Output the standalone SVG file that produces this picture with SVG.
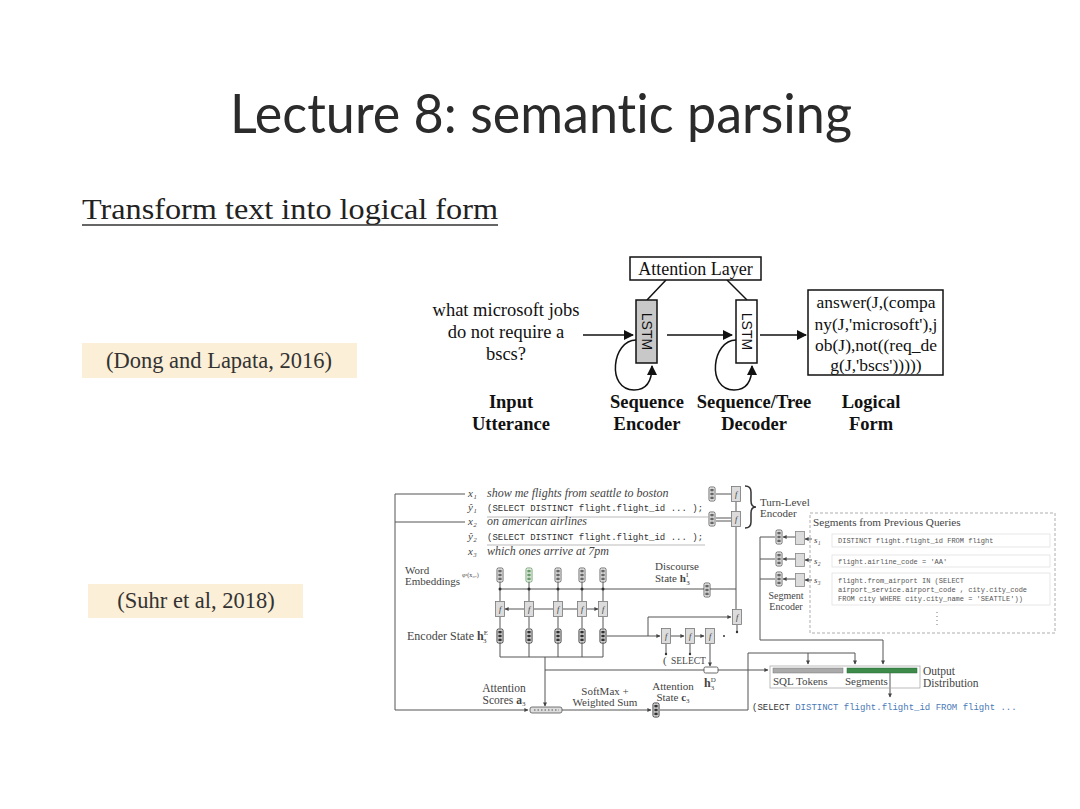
<svg xmlns="http://www.w3.org/2000/svg" xmlns:xlink="http://www.w3.org/1999/xlink" width="1080" height="809" viewBox="0 0 1080 809">
<style>
.serif{font-family:"Liberation Serif","Times New Roman",serif;}
.mono{font-family:"Liberation Mono","Courier New",monospace;}
.t16{font-size:17.5px;fill:#111;}
.lbl{font-size:18.5px;font-weight:bold;fill:#111;}
.ln{stroke:#111;stroke-width:1.5;fill:none;}
.l2{stroke:#555;stroke-width:1;fill:none;}
.lf{stroke:#aaa;stroke-width:0.8;fill:none;}
.s9{font-size:11px;fill:#444;}
.s12{font-size:12px;fill:#444;}
.s8{font-size:9px;fill:#444;}
.it{font-style:italic;}
.m9{font-size:9px;fill:#333;}
.m8{font-size:7px;fill:#555;}
.dot{fill:#333;}
</style>
<defs>
<marker id="ah" viewBox="0 0 10 10" refX="9" refY="5" markerUnits="userSpaceOnUse" markerWidth="12" markerHeight="10" orient="auto"><path d="M0,0 L10,5 L0,10 z" fill="#111"/></marker>
<marker id="sa" viewBox="0 0 10 10" refX="9" refY="5" markerUnits="userSpaceOnUse" markerWidth="5" markerHeight="4" orient="auto"><path d="M0,0 L10,5 L0,10 z" fill="#444"/></marker>
<marker id="sb" viewBox="0 0 10 10" refX="1" refY="5" markerUnits="userSpaceOnUse" markerWidth="5" markerHeight="4" orient="auto"><path d="M10,0 L0,5 L10,10 z" fill="#444"/></marker>
<g id="vec"><rect x="-3" y="-7" width="6" height="14" rx="1.5" fill="#fff" stroke="#444" stroke-width="0.8"/><rect x="-1.7" y="-5.3" width="3.4" height="2.8" fill="#666"/><rect x="-1.7" y="-1.4" width="3.4" height="2.8" fill="#666"/><rect x="-1.7" y="2.5" width="3.4" height="2.8" fill="#666"/></g>
<g id="vecg"><rect x="-3" y="-7" width="6" height="14" rx="1.5" fill="#fff" stroke="#4d8b4d" stroke-width="0.8"/><rect x="-1.7" y="-5.3" width="3.4" height="2.8" fill="#6a9a6a"/><rect x="-1.7" y="-1.4" width="3.4" height="2.8" fill="#6a9a6a"/><rect x="-1.7" y="2.5" width="3.4" height="2.8" fill="#6a9a6a"/></g>
<g id="vecd"><rect x="-3" y="-7" width="6" height="14" rx="1.5" fill="#fff" stroke="#333" stroke-width="1"/><rect x="-1.7" y="-5.3" width="3.4" height="2.8" fill="#333"/><rect x="-1.7" y="-1.4" width="3.4" height="2.8" fill="#333"/><rect x="-1.7" y="2.5" width="3.4" height="2.8" fill="#333"/></g>
<g id="fb"><rect x="-4.5" y="-7.5" width="9" height="15" fill="#dcdcdc" stroke="#777" stroke-width="0.8"/><text x="0" y="3" font-size="8" font-style="italic" text-anchor="middle" font-family="Liberation Serif,serif" fill="#333">f</text></g>
<g id="sb2"><rect x="-4.5" y="-6.5" width="9" height="13" fill="#dcdcdc" stroke="#888" stroke-width="0.8"/></g>
</defs>
<rect x="0" y="0" width="1080" height="809" fill="#ffffff"/>

<!-- Title -->
<text id="title" x="230" y="133" font-family="Lato,'Open Sans',sans-serif" font-size="55" fill="#2b2b2b" style="font-variant-ligatures:none" textLength="622" lengthAdjust="spacingAndGlyphs">Lecture 8: semantic parsing</text>
<g id="subtitle">
<text x="82" y="219" class="serif" font-size="29" fill="#222" textLength="416" lengthAdjust="spacingAndGlyphs">Transform text into logical form</text>
<line x1="82" y1="225" x2="498" y2="225" stroke="#333" stroke-width="1.5"/>
</g>

<g id="cite-dong">
<rect x="82" y="343" width="275" height="35" fill="#fcefd7"/>
<text x="219" y="368" class="serif" font-size="22.5" fill="#333" text-anchor="middle">(Dong and Lapata, 2016)</text>
</g>
<g id="cite-suhr">
<rect x="88" y="584" width="215" height="34" fill="#fcefd7"/>
<text x="196" y="608" class="serif" font-size="22.5" fill="#333" text-anchor="middle">(Suhr et al, 2018)</text>
</g>

<!-- Top diagram -->
<g id="top-connectors">
<line class="ln" x1="666" y1="280" x2="647" y2="300"/>
<line class="ln" x1="727" y1="280" x2="747" y2="300"/>
<line class="ln" x1="583" y1="335" x2="633" y2="335" marker-end="url(#ah)"/>
<line class="ln" x1="667" y1="335" x2="732" y2="335" marker-end="url(#ah)"/>
<line class="ln" x1="760" y1="335" x2="806" y2="335" marker-end="url(#ah)"/>
<path class="ln" d="M636 340 C612 340 606 390 634 390 C648 390 652 380 652 366" marker-end="url(#ah)"/>
<path class="ln" d="M736 340 C712 340 706 390 734 390 C748 390 752 380 752 366" marker-end="url(#ah)"/>
</g>
<g id="attention-layer">
<rect x="630" y="257" width="131" height="23" fill="#fff" stroke="#111" stroke-width="1.5"/>
<text x="695.5" y="274.5" class="serif" font-size="18" fill="#111" text-anchor="middle">Attention Layer</text>
</g>
<g id="input-utterance">
<text x="506" y="316" class="serif" font-size="18.5" fill="#111" text-anchor="middle">what microsoft jobs</text>
<text x="506" y="338" class="serif" font-size="18.5" fill="#111" text-anchor="middle">do not require a</text>
<text x="506" y="360" class="serif" font-size="18.5" fill="#111" text-anchor="middle">bscs?</text>
</g>
<g id="lstm-encoder">
<rect x="636" y="300" width="21" height="63" fill="#c8c8c8" stroke="#111" stroke-width="1.5"/>
<text x="0" y="0" transform="translate(641.5 331.5) rotate(90)" font-family="Liberation Sans,Arial,sans-serif" font-size="14" fill="#111" text-anchor="middle">LSTM</text>
</g>
<g id="lstm-decoder">
<rect x="736" y="300" width="21" height="63" fill="#fff" stroke="#111" stroke-width="1.5"/>
<text x="0" y="0" transform="translate(741.5 331.5) rotate(90)" font-family="Liberation Sans,Arial,sans-serif" font-size="14" fill="#111" text-anchor="middle">LSTM</text>
</g>
<g id="logical-form">
<rect x="808" y="290" width="135" height="85" fill="#fff" stroke="#111" stroke-width="1.5"/>
<text x="876" y="308" class="serif t16" text-anchor="middle">answer(J,(compa</text>
<text x="876" y="330" class="serif t16" text-anchor="middle">ny(J,'microsoft'),j</text>
<text x="876" y="351" class="serif t16" text-anchor="middle">ob(J),not((req_de</text>
<text x="876" y="371" class="serif t16" text-anchor="middle">g(J,'bscs')))))</text>
</g>
<g id="top-labels">
<text x="511" y="408" class="serif lbl" text-anchor="middle">Input</text>
<text x="511" y="430" class="serif lbl" text-anchor="middle">Utterance</text>
<text x="647" y="408" class="serif lbl" text-anchor="middle">Sequence</text>
<text x="647" y="430" class="serif lbl" text-anchor="middle">Encoder</text>
<text x="754" y="408" class="serif lbl" text-anchor="middle">Sequence/Tree</text>
<text x="754" y="430" class="serif lbl" text-anchor="middle">Decoder</text>
<text x="871" y="408" class="serif lbl" text-anchor="middle">Logical</text>
<text x="871" y="430" class="serif lbl" text-anchor="middle">Form</text>
</g>

<!-- Lower diagram connectors -->
<g id="low-connectors">
<path class="l2" d="M465 494 H395 V710 H528" marker-end="url(#sa)"/>
<line class="l2" x1="395" y1="522" x2="465" y2="522"/>
<line class="lf" x1="487" y1="517" x2="708" y2="517"/>
<line class="lf" x1="487" y1="545" x2="705" y2="545"/>
<line class="l2" x1="716" y1="494" x2="731" y2="494"/>
<line class="l2" x1="716" y1="518" x2="731" y2="518"/>
<line class="l2" x1="716" y1="521" x2="731" y2="521"/>
<line class="l2" x1="736" y1="502" x2="736" y2="511"/>
<line class="l2" x1="736" y1="527" x2="736" y2="609"/>
<line class="l2" x1="500" y1="589" x2="736" y2="589"/>
<path class="l2" d="M500 582 V601 M529 582 V601 M558 582 V601 M582 582 V601 M603 582 V601"/>
<path class="l2" d="M500 617 V628 M529 617 V628 M558 617 V628 M582 617 V628 M603 617 V628"/>
<path class="l2" d="M500 643 V657 M529 643 V657 M558 643 V657 M582 643 V657 M603 643 V657 H500"/>
<path class="l2" d="M505 609 H524 M534 609 H553 M563 609 H577 M587 609 H598" marker-start="url(#sb)" marker-end="url(#sa)"/>
<line class="l2" x1="545" y1="657" x2="545" y2="706" marker-end="url(#sa)"/>
<line class="l2" x1="545" y1="670" x2="768" y2="670" marker-end="url(#sa)"/>
<line class="l2" x1="607" y1="636" x2="660" y2="636" marker-end="url(#sa)"/>
<path class="l2" d="M648 636 V617 H731" marker-end="url(#sa)"/>
<line class="l2" x1="671" y1="636" x2="684" y2="636" marker-end="url(#sa)"/>
<line class="l2" x1="695" y1="636" x2="704" y2="636" marker-end="url(#sa)"/>
<line class="l2" x1="710" y1="644" x2="710" y2="666" marker-end="url(#sa)"/>
<line class="l2" x1="666" y1="644" x2="666" y2="653"/>
<line class="l2" x1="690" y1="644" x2="690" y2="653"/>
<line class="l2" x1="737" y1="625" x2="737" y2="632"/>
<line class="l2" x1="562" y1="710" x2="651" y2="710" marker-end="url(#sa)"/>
<path class="l2" d="M660 710 H748 V653 H855 V664" marker-end="url(#sa)"/>
<line class="l2" x1="808" y1="653" x2="808" y2="664" marker-end="url(#sa)"/>
<path class="l2" d="M760 537 V640 H883 V664" marker-end="url(#sa)"/>
<line class="l2" x1="760" y1="537" x2="775" y2="537"/>
<line class="l2" x1="760" y1="559" x2="775" y2="559"/>
<line class="l2" x1="760" y1="579" x2="775" y2="579"/>
<line class="l2" x1="796" y1="537" x2="783" y2="537" marker-end="url(#sa)"/>
<line class="l2" x1="796" y1="559" x2="783" y2="559" marker-end="url(#sa)"/>
<line class="l2" x1="796" y1="579" x2="783" y2="579" marker-end="url(#sa)"/>
<line class="l2" x1="812" y1="539" x2="805" y2="539" marker-end="url(#sa)"/>
<line class="l2" x1="812" y1="560" x2="805" y2="560" marker-end="url(#sa)"/>
<line class="l2" x1="812" y1="580" x2="805" y2="580" marker-end="url(#sa)"/>
<line class="l2" x1="890" y1="673" x2="890" y2="697" marker-end="url(#sa)"/>
<path d="M745 486 Q751 486 751 492 L751 501 Q751 507 756 507 Q751 507 751 513 L751 522 Q751 528 745 528" fill="none" stroke="#333" stroke-width="1.5"/>
<g class="dot">
<circle cx="500" cy="589" r="1.5"/><circle cx="529" cy="589" r="1.5"/><circle cx="558" cy="589" r="1.5"/><circle cx="582" cy="589" r="1.5"/><circle cx="603" cy="589" r="1.5"/>
<circle cx="666" cy="654" r="1.2"/><circle cx="690" cy="654" r="1.2"/><circle cx="737" cy="632" r="1.2"/><circle cx="724" cy="636" r="1"/>
</g>
</g>

<!-- Utterance / query history -->
<g id="history">
<text x="468" y="497" class="serif s9 it">x₁</text>
<text x="487" y="497" class="serif s12 it">show me flights from seattle to boston</text>
<text x="468" y="511" class="serif s9 it">ŷ₁</text>
<text x="487" y="511" class="mono m9">(SELECT DISTINCT flight.flight_id ... );</text>
<text x="468" y="525" class="serif s9 it">x₂</text>
<text x="487" y="525" class="serif s12 it">on american airlines</text>
<text x="468" y="540" class="serif s9 it">ŷ₂</text>
<text x="487" y="540" class="mono m9">(SELECT DISTINCT flight.flight_id ... );</text>
<text x="468" y="555" class="serif s9 it">x₃</text>
<text x="487" y="555" class="serif s12 it">which ones arrive at 7pm</text>
</g>

<g id="turn-encoder">
<use href="#vec" x="712" y="494"/>
<use href="#vec" x="712" y="519"/>
<use href="#fb" x="736" y="494"/>
<use href="#fb" x="736" y="519"/>
<text x="760" y="506" class="serif s9">Turn-Level</text>
<text x="760" y="517" class="serif s9">Encoder</text>
</g>

<g id="word-embeddings">
<text x="405" y="574" class="serif s9">Word</text>
<text x="405" y="585" class="serif s9">Embeddings</text>
<text x="462" y="577" class="serif" font-size="6" fill="#444">φˣ(x₃,ᵢ)</text>
<use href="#vec" x="500" y="575"/>
<use href="#vecg" x="529" y="575"/>
<use href="#vec" x="558" y="575"/>
<use href="#vec" x="582" y="575"/>
<use href="#vec" x="603" y="575"/>
</g>

<g id="encoder-lstm">
<use href="#fb" x="500" y="609"/>
<use href="#fb" x="529" y="609"/>
<use href="#fb" x="558" y="609"/>
<use href="#fb" x="582" y="609"/>
<use href="#fb" x="603" y="609"/>
</g>

<g id="encoder-state">
<text x="407" y="640" class="serif s12">Encoder State <tspan font-weight="bold">h</tspan><tspan font-size="7" dy="-5">E</tspan><tspan font-size="7" dx="-5" dy="8">3</tspan></text>
<use href="#vecd" x="500" y="636"/>
<use href="#vecd" x="529" y="636"/>
<use href="#vecd" x="558" y="636"/>
<use href="#vecd" x="582" y="636"/>
<use href="#vecd" x="603" y="636"/>
</g>

<g id="discourse-state">
<text x="655" y="570" class="serif s9">Discourse</text>
<text x="655" y="582" class="serif s9">State <tspan font-weight="bold">h</tspan><tspan font-size="7" dy="-5">I</tspan><tspan font-size="7" dx="-2" dy="8">3</tspan></text>
<use href="#vec" x="707" y="590"/>
<use href="#fb" x="737" y="617"/>
</g>

<g id="decoder">
<use href="#fb" x="666" y="636"/>
<use href="#fb" x="690" y="636"/>
<use href="#fb" x="710" y="636"/>
<text x="663" y="664" class="serif s9">(</text>
<text x="671" y="664" class="serif" font-size="9.5" fill="#444">SELECT</text>
<rect x="704" y="667" width="14" height="6" rx="1.5" fill="#fff" stroke="#444" stroke-width="0.8"/>
<text x="704" y="687" class="serif s12"><tspan font-weight="bold">h</tspan><tspan font-size="7" dy="-5">D</tspan><tspan font-size="7" dx="-5" dy="8">3</tspan></text>
</g>

<g id="segment-encoder">
<use href="#vec" x="779" y="537"/>
<use href="#vec" x="779" y="559"/>
<use href="#vec" x="779" y="579"/>
<use href="#sb2" x="800" y="538"/>
<use href="#sb2" x="800" y="560"/>
<use href="#sb2" x="800" y="580"/>
<text x="786" y="599" class="serif" font-size="10" fill="#444" text-anchor="middle">Segment</text>
<text x="786" y="610" class="serif" font-size="10" fill="#444" text-anchor="middle">Encoder</text>
</g>

<g id="segments-box">
<rect x="810" y="513" width="245" height="120" fill="none" stroke="#999" stroke-width="0.8" stroke-dasharray="3 2"/>
<text x="813" y="526" class="serif" font-size="11.2" fill="#444">Segments from Previous Queries</text>
<rect x="832" y="534" width="218" height="13" fill="none" stroke="#ddd" stroke-width="0.7"/>
<rect x="832" y="555" width="218" height="12" fill="none" stroke="#ddd" stroke-width="0.7"/>
<rect x="832" y="573" width="218" height="32" fill="none" stroke="#ddd" stroke-width="0.7"/>
<text x="814" y="543" class="serif s8 it">s₁</text>
<text x="838" y="543" class="mono m8">DISTINCT flight.flight_id FROM flight</text>
<text x="814" y="564" class="serif s8 it">s₂</text>
<text x="838" y="564" class="mono m8">flight.airline_code = 'AA'</text>
<text x="814" y="583" class="serif s8 it">s₃</text>
<text x="838" y="583" class="mono m8">flight.from_airport IN (SELECT</text>
<text x="838" y="592" class="mono m8">airport_service.airport_code , city.city_code</text>
<text x="838" y="601" class="mono m8">FROM city WHERE city.city_name = 'SEATTLE'))</text>
<line x1="937" y1="612" x2="937" y2="628" stroke="#777" stroke-width="1" stroke-dasharray="1 3"/>
</g>

<g id="attention">
<rect x="530" y="707" width="32" height="6" rx="2" fill="#ddd" stroke="#555" stroke-width="0.8"/>
<path d="M534 710 H559" stroke="#555" stroke-width="1.2" stroke-dasharray="1.5 2"/>
<text x="504" y="692" class="serif" font-size="11.5" fill="#444" text-anchor="middle">Attention</text>
<text x="504" y="704" class="serif" font-size="11.5" fill="#444" text-anchor="middle">Scores <tspan font-weight="bold">a</tspan><tspan font-size="7" dy="2">3</tspan></text>
<text x="605" y="695" class="serif s9" text-anchor="middle">SoftMax +</text>
<text x="605" y="706" class="serif s9" text-anchor="middle">Weighted Sum</text>
<use href="#vecd" x="656" y="710"/>
<text x="673" y="690" class="serif s9" text-anchor="middle">Attention</text>
<text x="673" y="701" class="serif s9" text-anchor="middle">State <tspan font-weight="bold">c</tspan><tspan font-size="7" dy="2">3</tspan></text>
</g>

<g id="output-distribution">
<rect x="770" y="666" width="150" height="22" fill="none" stroke="#aaa" stroke-width="0.8"/>
<rect x="773" y="668" width="70" height="5" fill="#aaa" stroke="#777" stroke-width="0.5"/>
<rect x="847" y="668" width="70" height="5" fill="#3d8a4a" stroke="#2d6a3a" stroke-width="0.5"/>
<text x="773" y="685" class="serif s9">SQL Tokens</text>
<text x="845" y="685" class="serif s9">Segments</text>
<text x="923" y="675" class="serif" font-size="11.5" fill="#444">Output</text>
<text x="923" y="687" class="serif" font-size="11.5" fill="#444">Distribution</text>
</g>

<g id="output-query">
<text x="752" y="710" class="mono m9"><tspan fill="#333">(SELECT</tspan><tspan fill="#4a7ab8"> DISTINCT flight.flight_id FROM flight ...</tspan></text>
</g>
</svg>
